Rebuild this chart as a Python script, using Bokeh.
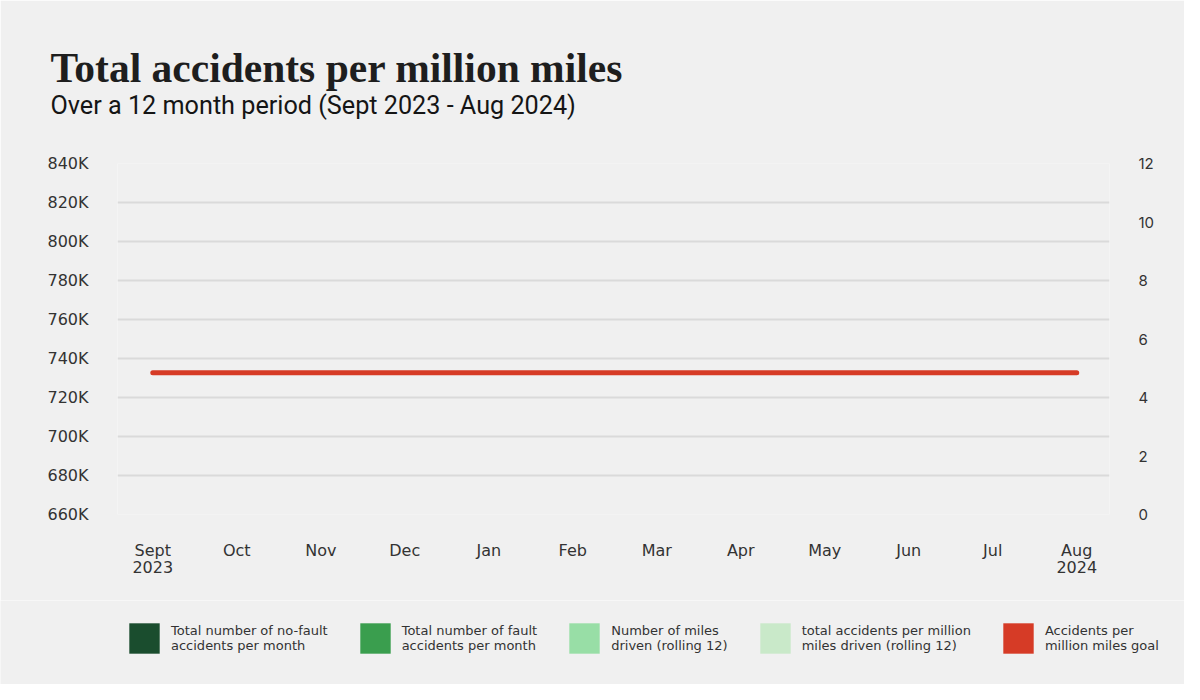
from bokeh.plotting import figure
from bokeh.layouts import column
from bokeh.models import Range1d, LinearAxis, FixedTicker, Title, Legend, LegendItem, ColumnDataSource
from bokeh.embed import file_html
from bokeh.resources import INLINE

# ---- data ----
months = ["Sept\n2023", "Oct", "Nov", "Dec", "Jan", "Feb", "Mar", "Apr", "May", "Jun", "Jul", "Aug\n2024"]
goal_per_million = [4.85, 4.85, 4.85, 4.85, 4.85, 4.85, 4.85, 4.85, 4.85, 4.85, 4.85, 4.85]
no_fault_accidents = []
fault_accidents = []
miles_rolling12 = []
accidents_per_million_rolling12 = []

left_ticks = [660000, 680000, 700000, 720000, 740000, 760000, 780000, 800000, 820000, 840000]
left_tick_labels = ["660K", "680K", "700K", "720K", "740K", "760K", "780K", "800K", "820K", "840K"]
right_ticks = [0, 2, 4, 6, 8, 10, 12]

legend_labels = [
    "Total number of no-fault\naccidents per month",
    "Total number of fault\naccidents per month",
    "Number of miles\ndriven (rolling 12)",
    "total accidents per million\nmiles driven (rolling 12)",
    "Accidents per\nmillion miles goal",
]
legend_colors = ["#1a4d2e", "#3a9e4e", "#98dea6", "#c9e9c9", "#d63b26"]

BG = "#f0f0f0"
TXT = "#333333"
RED = "#d63b26"
W = 1184
H_MAIN = 600
H_LEG = 84

x_idx = list(range(len(months)))

p = figure(width=W, height=H_MAIN, title=None, toolbar_location=None, output_backend="svg",
           x_range=Range1d(-0.42, len(months) - 1 + 0.39),
           y_range=Range1d(660000, 840000),
           min_border_left=117, min_border_right=75, min_border_top=163, min_border_bottom=H_MAIN - 514,
           background_fill_color=BG, border_fill_color=BG, outline_line_color=None)
p.frame_align = False
p.extra_y_ranges = {"rate": Range1d(0, 12)}

# axes
p.xaxis.ticker = FixedTicker(ticks=x_idx)
p.xaxis.major_label_overrides = {i: m for i, m in zip(x_idx, months)}
p.yaxis.ticker = FixedTicker(ticks=left_ticks)
p.yaxis.major_label_overrides = {t: l for t, l in zip(left_ticks, left_tick_labels)}

for ax in [p.xaxis[0], p.yaxis[0]]:
    ax.axis_line_color = None
    ax.major_tick_line_color = None
    ax.minor_tick_line_color = None
    ax.major_label_text_font = "DejaVu Sans"
    ax.major_label_text_font_size = "16px"
    ax.major_label_text_color = TXT
p.xaxis.major_label_standoff = 20
p.xaxis.major_label_text_line_height = 0.93
p.yaxis.major_label_standoff = 23

rax = LinearAxis(y_range_name="rate", ticker=FixedTicker(ticks=right_ticks),
                 axis_line_color=None, major_tick_line_color=None, minor_tick_line_color=None,
                 major_label_text_font="Inter", major_label_text_font_size="15px",
                 major_label_text_color=TXT, major_label_standoff=23)
p.add_layout(rax, "right")

p.xgrid.grid_line_color = None
p.ygrid.grid_line_color = "#dadada"
p.ygrid.grid_line_width = 2

# goal line
src = ColumnDataSource(dict(x=x_idx, goal=goal_per_million))
p.line("x", "goal", source=src, y_range_name="rate", line_color=RED, line_width=5, line_cap="round")

# titles
sub = Title(text="Over a 12 month period  (Sept 2023 - Aug 2024)", align="left", offset=-67,
            text_font="Roboto", text_font_size="25.2px", text_font_style="normal",
            text_color="#151515", standoff=88)
p.add_layout(sub, "above")
main = Title(text="Total accidents per million miles", align="left", offset=-67,
             text_font="Liberation Serif", text_font_size="41.5px", text_font_style="bold",
             text_color="#1e1e1e", standoff=-92)
p.add_layout(main, "above")

# ---- legend strip ----
lg = figure(width=W, height=H_LEG, title=None, toolbar_location=None, output_backend="svg",
            x_range=Range1d(0, 1), y_range=Range1d(0, 1),
            min_border=0, min_border_left=0, min_border_right=0, min_border_top=0, min_border_bottom=0,
            background_fill_color=BG, border_fill_color=BG, outline_line_color=None)
lg.frame_align = False
lg.axis.visible = False
lg.grid.visible = False

items = []
for lab, col in zip(legend_labels, legend_colors):
    r = lg.rect(x=[0], y=[0], width=1, height=1, fill_color=col, line_color=None, visible=False)
    items.append(LegendItem(label=lab, renderers=[r]))

legend = Legend(items=items, orientation="horizontal", location=(125, 27),
                glyph_width=38, glyph_height=38, label_standoff=8, spacing=28,
                padding=9, margin=0, background_fill_alpha=0, border_line_color=None,
                label_text_font="DejaVu Sans", label_text_font_size="13px",
                label_text_color=TXT, label_text_line_height=1.1)
lg.add_layout(legend, "center")

layout = column(p, lg, spacing=0)
open("out.html", "w").write(file_html(layout, INLINE))
